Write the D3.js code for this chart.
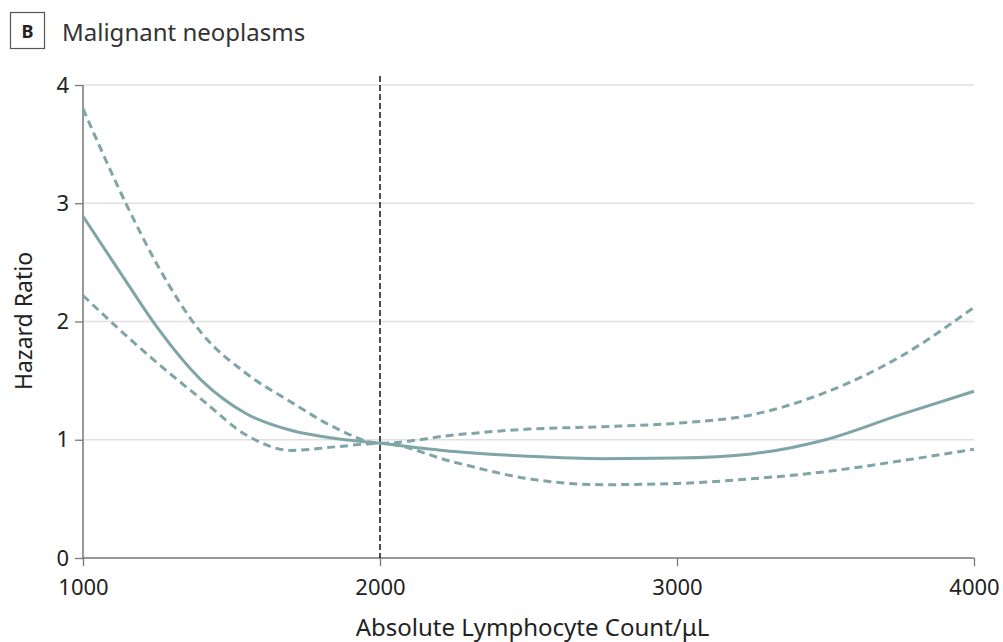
<!DOCTYPE html>
<html>
<head>
<meta charset="utf-8">
<script src="https://cdn.jsdelivr.net/npm/d3@7"></script>
<style>
body { margin: 0; background: #fff; }
svg text { font-family: "Noto Sans", "Open Sans", sans-serif; fill: #222; }
</style>
</head>
<body>
<svg id="svg" width="1003" height="642"></svg>
<script>
// values
var counts = [1000, 1150, 1250, 1400, 1550, 1700, 1850, 2000, 2250, 2500, 2750, 3000, 3250, 3500, 3750, 4000];
var hr     = [2.89, 2.32, 1.95, 1.50, 1.22, 1.08, 1.01, 0.97, 0.90, 0.86, 0.84, 0.845, 0.88, 1.00, 1.21, 1.41];
var upper  = [3.80, 2.97, 2.48, 1.90, 1.56, 1.32, 1.10, 0.97, 1.04, 1.09, 1.11, 1.14, 1.21, 1.40, 1.70, 2.12];
var lower  = [2.22, 1.87, 1.65, 1.34, 1.04, 0.91, 0.94, 0.97, 0.81, 0.67, 0.62, 0.63, 0.67, 0.73, 0.82, 0.92];
var xTicks = [1000, 2000, 3000, 4000];
var yTicks = [0, 1, 2, 3, 4];
var refCount = 2000;

var svg = d3.select("#svg");
var lineColor = "#7fa5a8";

var xScale = d3.scaleLinear().domain([1000, 4000]).range([83, 974]);
var yScale = d3.scaleLinear().domain([0, 4]).range([558, 85]);

// panel label
svg.append("rect")
    .attr("x", 10.5).attr("y", 12.5)
    .attr("width", 34).attr("height", 36)
    .attr("fill", "none").attr("stroke", "#555").attr("stroke-width", 1.2);
svg.append("text")
    .attr("x", 27.5).attr("y", 38)
    .style("text-anchor", "middle")
    .style("font-size", "18px").style("font-weight", "bold")
    .text("B");
svg.append("text")
    .attr("x", 62).attr("y", 41)
    .style("font-size", "24px").style("fill", "#333")
    .text("Malignant neoplasms");

// gridlines
svg.append("g").selectAll("line")
    .data(yTicks.filter(function(d) { return d > 0; }))
    .enter().append("line")
    .attr("x1", xScale(1000)).attr("x2", xScale(4000))
    .attr("y1", function(d) { return yScale(d); })
    .attr("y2", function(d) { return yScale(d); })
    .attr("stroke", "#e0e0e0").attr("stroke-width", 1.5);

// axes
var xAxis = svg.append("g")
    .attr("transform", "translate(0," + yScale(0) + ")")
    .call(d3.axisBottom(xScale).tickValues(xTicks).tickSize(8).tickPadding(13).tickFormat(d3.format("d")));
var yAxis = svg.append("g")
    .attr("transform", "translate(" + xScale(1000) + ",0)")
    .call(d3.axisLeft(yScale).tickValues(yTicks).tickSize(8).tickPadding(6).tickFormat(d3.format("d")));
[xAxis, yAxis].forEach(function(ax) {
    ax.select(".domain").attr("stroke", "#777").attr("stroke-width", 1.5);
    ax.selectAll(".tick line").attr("stroke", "#777").attr("stroke-width", 1.3);
    ax.selectAll(".tick text")
        .style("font-family", "'Noto Sans', sans-serif")
        .style("font-size", "22px").style("fill", "#222");
});
yAxis.select(".domain").attr("d", "M0," + yScale(4) + "V" + yScale(0));
xAxis.select(".domain").attr("d", "M" + xScale(1000) + ",0H" + xScale(4000));

// reference line
svg.append("line")
    .attr("x1", xScale(refCount)).attr("x2", xScale(refCount))
    .attr("y1", 76).attr("y2", yScale(0))
    .attr("stroke", "#222").attr("stroke-width", 1.6)
    .attr("stroke-dasharray", "6,3");

// curves
var line = d3.line()
    .x(function(d, i) { return xScale(counts[i]); })
    .y(function(d) { return yScale(d); })
    .curve(d3.curveMonotoneX);

svg.append("path").datum(upper)
    .attr("d", line).attr("fill", "none")
    .attr("stroke", lineColor).attr("stroke-width", 3)
    .attr("stroke-dasharray", "8,5");
svg.append("path").datum(lower)
    .attr("d", line).attr("fill", "none")
    .attr("stroke", lineColor).attr("stroke-width", 3)
    .attr("stroke-dasharray", "8,5");
svg.append("path").datum(hr)
    .attr("d", line).attr("fill", "none")
    .attr("stroke", lineColor).attr("stroke-width", 3);

// axis titles
svg.append("text")
    .attr("x", (xScale(1000) + xScale(4000)) / 2 + 4).attr("y", 636)
    .style("text-anchor", "middle").style("font-size", "24px")
    .text("Absolute Lymphocyte Count/μL");
svg.append("text")
    .attr("transform", "translate(32," + 321 + ") rotate(-90)")
    .style("text-anchor", "middle").style("font-size", "23px")
    .text("Hazard Ratio");
</script>
</body>
</html>
